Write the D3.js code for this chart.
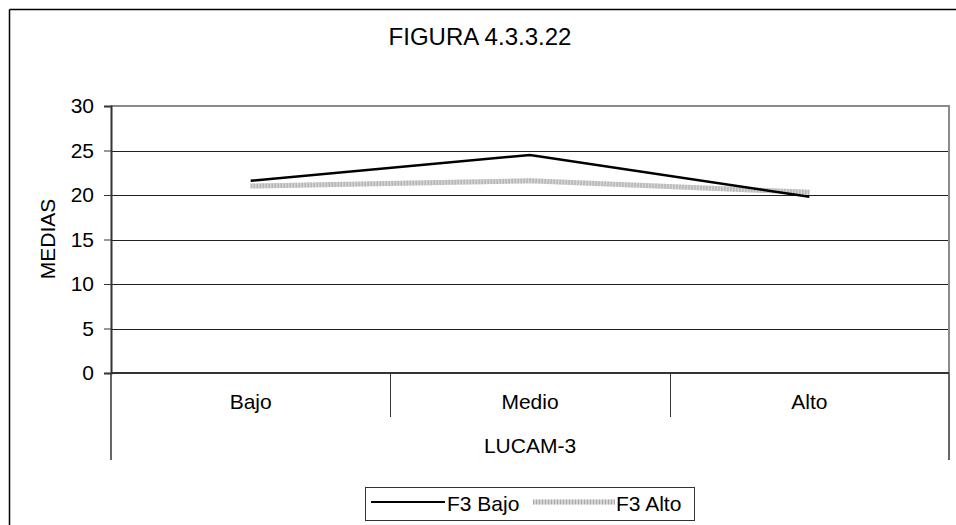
<!DOCTYPE html>
<html><head><meta charset="utf-8">
<script src="https://cdn.jsdelivr.net/npm/d3@7"></script>
<style>body{margin:0;background:#fff}svg{display:block}text{font-family:"Liberation Sans",Arial,sans-serif;fill:#000}</style>
</head><body>
<script>
const categories = ["Bajo", "Medio", "Alto"];
const seriesNames = ["F3 Bajo", "F3 Alto"];
const f3Bajo = [21.6, 24.5, 19.8];
const f3Alto = [21.0, 21.6, 20.3];
const yTicks = [0, 5, 10, 15, 20, 25, 30];
const title = "FIGURA 4.3.3.22";
const yTitle = "MEDIAS";
const xTitle = "LUCAM-3";

const W = 956, H = 525, FS = "21px";
const svg = d3.select("body").append("svg").attr("width", W).attr("height", H);
// outer chart border
svg.append("line").attr("x1", 9.5).attr("x2", W).attr("y1", 9.5).attr("y2", 9.5).attr("stroke", "#000").attr("stroke-width", 1.5);
svg.append("line").attr("x1", 9.5).attr("x2", 9.5).attr("y1", 9.5).attr("y2", H).attr("stroke", "#000").attr("stroke-width", 1.5);

const L = 111, R = 949, T = 106, B = 373;
const x = d3.scaleBand().domain(categories).range([L, R]);
const y = d3.scaleLinear().domain([0, 30]).range([B, T]);

// gridlines
svg.append("g").selectAll("line").data(yTicks.filter(d => d > 0 && d < 30)).join("line")
  .attr("x1", L).attr("x2", R).attr("y1", d => Math.round(y(d)) + 0.5).attr("y2", d => Math.round(y(d)) + 0.5)
  .attr("stroke", "#222").attr("stroke-width", 1);
// plot border top/right gray
svg.append("path").attr("d", `M${L},${T}H${R}V${B}`).attr("fill", "none").attr("stroke", "#8a8a8a").attr("stroke-width", 2);

// y axis
const yAxis = d3.axisLeft(y).tickValues(yTicks).tickSize(7).tickPadding(10);
const gy = svg.append("g").attr("transform", `translate(${L},0)`).call(yAxis);
gy.select(".domain").attr("stroke", "#333").attr("stroke-width", 2);
gy.selectAll(".tick line").attr("stroke", "#333");
gy.selectAll("text").style("font-size", FS).style("font-family", "Liberation Sans, Arial").attr("fill", "#000");

// x axis baseline
svg.append("line").attr("x1", L).attr("x2", R).attr("y1", B).attr("y2", B).attr("stroke", "#333").attr("stroke-width", 2);
// category separators
const seps = categories.slice(1).map(c => x(c));
svg.append("g").selectAll("line").data(seps).join("line")
  .attr("x1", d => Math.round(d) + 0.5).attr("x2", d => Math.round(d) + 0.5).attr("y1", B).attr("y2", 417)
  .attr("stroke", "#333").attr("stroke-width", 1);
// outer category lines
svg.append("g").selectAll("line").data([L, R]).join("line")
  .attr("x1", d => d).attr("x2", d => d).attr("y1", B).attr("y2", 460)
  .attr("stroke", "#333").attr("stroke-width", 1.5);
// category labels
svg.append("g").selectAll("text").data(categories).join("text")
  .attr("x", d => x(d) + x.bandwidth() / 2).attr("y", 409).attr("text-anchor", "middle")
  .style("font-size", FS).text(d => d);
svg.append("text").attr("x", (L + R) / 2).attr("y", 453).attr("text-anchor", "middle").style("font-size", FS).text(xTitle);

// titles
svg.append("text").attr("x", 480).attr("y", 45).attr("text-anchor", "middle").style("font-size", "24px").text(title);
svg.append("text").attr("transform", "translate(55,239) rotate(-90)").attr("text-anchor", "middle").style("font-size", FS).text(yTitle);

// lines
const line = d3.line().x((d, i) => x(categories[i]) + x.bandwidth() / 2).y(d => y(d));
svg.append("path").datum(f3Alto).attr("d", line).attr("fill", "none").attr("stroke", "#d4d4d4").attr("stroke-width", 5);
svg.append("path").datum(f3Alto).attr("d", line).attr("fill", "none").attr("stroke", "#a8a8a8").attr("stroke-width", 5).attr("stroke-dasharray", "1,2");
svg.append("path").datum(f3Bajo).attr("d", line).attr("fill", "none").attr("stroke", "#000").attr("stroke-width", 2.5);

// legend
const lg = svg.append("g");
lg.append("rect").attr("x", 365.5).attr("y", 487.5).attr("width", 329).attr("height", 33).attr("fill", "#fff").attr("stroke", "#333").attr("stroke-width", 1);
lg.append("line").attr("x1", 371).attr("x2", 445).attr("y1", 502).attr("y2", 502).attr("stroke", "#000").attr("stroke-width", 2);
lg.append("text").attr("x", 447).attr("y", 511).style("font-size", FS).text(seriesNames[0]);
lg.append("line").attr("x1", 533).attr("x2", 615).attr("y1", 502).attr("y2", 502).attr("stroke", "#d4d4d4").attr("stroke-width", 5);
lg.append("line").attr("x1", 533).attr("x2", 615).attr("y1", 502).attr("y2", 502).attr("stroke", "#a8a8a8").attr("stroke-width", 5).attr("stroke-dasharray", "1,2");
lg.append("text").attr("x", 616).attr("y", 511).style("font-size", FS).text(seriesNames[1]);
</script>
</body></html>
